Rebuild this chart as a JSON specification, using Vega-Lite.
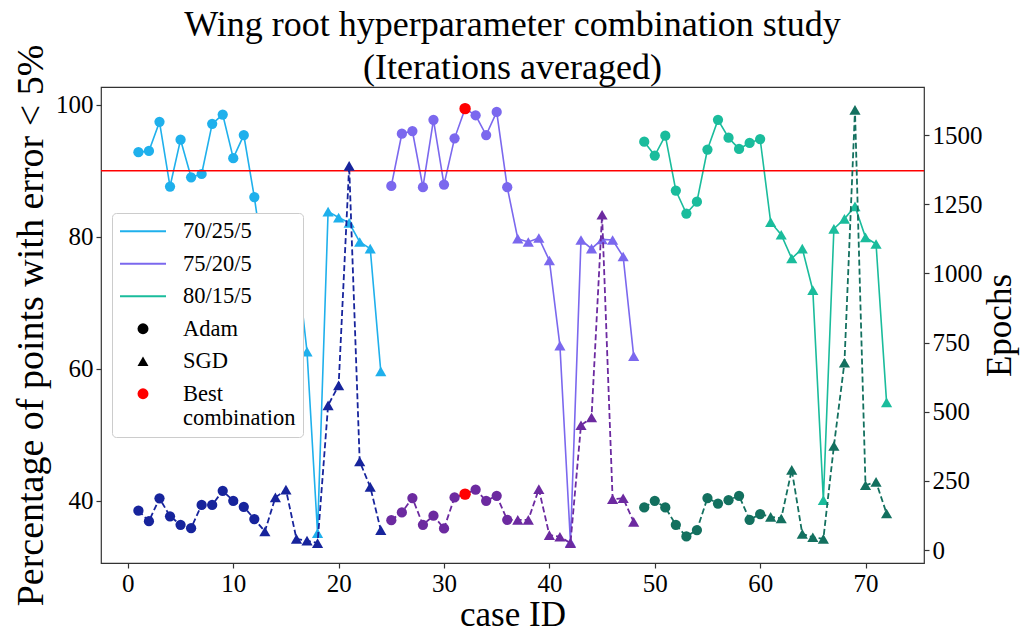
{
  "$schema": "https://vega.github.io/schema/vega-lite/v6.json",
  "width": 823,
  "height": 476,
  "autosize": {"type": "none"},
  "padding": {"left": 101, "top": 87, "right": 105, "bottom": 71},
  "background": "white",
  "config": {
    "view": {"stroke": "#333333", "strokeWidth": 1.2},
    "font": "Liberation Serif",
    "axis": {
      "grid": false, "domain": false, "tickColor": "#333333", "tickSize": 5, "tickWidth": 1.2,
      "labelFont": "Liberation Serif", "labelFontSize": 25, "labelColor": "#000000", "labelPadding": 3,
      "titleFont": "Liberation Serif", "titleFontSize": 35, "titleFontWeight": "normal", "titleColor": "#000000"
    }
  },
  "title": {
    "text": ["Wing root hyperparameter combination study", "(Iterations averaged)"],
    "font": "Liberation Serif", "fontSize": 36, "fontWeight": "normal", "color": "#000000",
    "anchor": "middle", "frame": "group", "offset": -43, "lineHeight": 43
  },
  "data": {"values": [
    {"case": 1, "config": "70/25/5", "opt": "Adam", "acc": 92.8, "ep": 142, "best": false},
    {"case": 2, "config": "70/25/5", "opt": "Adam", "acc": 93.0, "ep": 104, "best": false},
    {"case": 3, "config": "70/25/5", "opt": "Adam", "acc": 97.4, "ep": 187, "best": false},
    {"case": 4, "config": "70/25/5", "opt": "Adam", "acc": 87.6, "ep": 122, "best": false},
    {"case": 5, "config": "70/25/5", "opt": "Adam", "acc": 94.7, "ep": 91, "best": false},
    {"case": 6, "config": "70/25/5", "opt": "Adam", "acc": 89.0, "ep": 79, "best": false},
    {"case": 7, "config": "70/25/5", "opt": "Adam", "acc": 89.5, "ep": 163, "best": false},
    {"case": 8, "config": "70/25/5", "opt": "Adam", "acc": 97.1, "ep": 163, "best": false},
    {"case": 9, "config": "70/25/5", "opt": "Adam", "acc": 98.5, "ep": 214, "best": false},
    {"case": 10, "config": "70/25/5", "opt": "Adam", "acc": 91.9, "ep": 178, "best": false},
    {"case": 11, "config": "70/25/5", "opt": "Adam", "acc": 95.4, "ep": 156, "best": false},
    {"case": 12, "config": "70/25/5", "opt": "Adam", "acc": 86.0, "ep": 112, "best": false},
    {"case": 13, "config": "70/25/5", "opt": "SGD", "acc": 75.0, "ep": 67, "best": false},
    {"case": 14, "config": "70/25/5", "opt": "SGD", "acc": 72.0, "ep": 190, "best": false},
    {"case": 15, "config": "70/25/5", "opt": "SGD", "acc": 74.0, "ep": 218, "best": false},
    {"case": 16, "config": "70/25/5", "opt": "SGD", "acc": 77.0, "ep": 40, "best": false},
    {"case": 17, "config": "70/25/5", "opt": "SGD", "acc": 62.6, "ep": 34, "best": false},
    {"case": 18, "config": "70/25/5", "opt": "SGD", "acc": 35.1, "ep": 25, "best": false},
    {"case": 19, "config": "70/25/5", "opt": "SGD", "acc": 83.8, "ep": 523, "best": false},
    {"case": 20, "config": "70/25/5", "opt": "SGD", "acc": 82.9, "ep": 595, "best": false},
    {"case": 21, "config": "70/25/5", "opt": "SGD", "acc": 82.1, "ep": 1389, "best": false},
    {"case": 22, "config": "70/25/5", "opt": "SGD", "acc": 79.2, "ep": 320, "best": false},
    {"case": 23, "config": "70/25/5", "opt": "SGD", "acc": 78.2, "ep": 228, "best": false},
    {"case": 24, "config": "70/25/5", "opt": "SGD", "acc": 59.6, "ep": 72, "best": false},
    {"case": 25, "config": "75/20/5", "opt": "Adam", "acc": 87.7, "ep": 108, "best": false},
    {"case": 26, "config": "75/20/5", "opt": "Adam", "acc": 95.6, "ep": 136, "best": false},
    {"case": 27, "config": "75/20/5", "opt": "Adam", "acc": 96.0, "ep": 188, "best": false},
    {"case": 28, "config": "75/20/5", "opt": "Adam", "acc": 87.5, "ep": 91, "best": false},
    {"case": 29, "config": "75/20/5", "opt": "Adam", "acc": 97.7, "ep": 124, "best": false},
    {"case": 30, "config": "75/20/5", "opt": "Adam", "acc": 87.9, "ep": 78, "best": false},
    {"case": 31, "config": "75/20/5", "opt": "Adam", "acc": 94.9, "ep": 190, "best": false},
    {"case": 32, "config": "75/20/5", "opt": "Adam", "acc": 99.4, "ep": 202, "best": true},
    {"case": 33, "config": "75/20/5", "opt": "Adam", "acc": 98.4, "ep": 218, "best": false},
    {"case": 34, "config": "75/20/5", "opt": "Adam", "acc": 95.4, "ep": 178, "best": false},
    {"case": 35, "config": "75/20/5", "opt": "Adam", "acc": 98.9, "ep": 196, "best": false},
    {"case": 36, "config": "75/20/5", "opt": "Adam", "acc": 87.5, "ep": 109, "best": false},
    {"case": 37, "config": "75/20/5", "opt": "SGD", "acc": 79.7, "ep": 109, "best": false},
    {"case": 38, "config": "75/20/5", "opt": "SGD", "acc": 79.2, "ep": 109, "best": false},
    {"case": 39, "config": "75/20/5", "opt": "SGD", "acc": 79.8, "ep": 220, "best": false},
    {"case": 40, "config": "75/20/5", "opt": "SGD", "acc": 76.4, "ep": 54, "best": false},
    {"case": 41, "config": "75/20/5", "opt": "SGD", "acc": 63.5, "ep": 48, "best": false},
    {"case": 42, "config": "75/20/5", "opt": "SGD", "acc": 33.7, "ep": 25, "best": false},
    {"case": 43, "config": "75/20/5", "opt": "SGD", "acc": 79.5, "ep": 451, "best": false},
    {"case": 44, "config": "75/20/5", "opt": "SGD", "acc": 78.2, "ep": 479, "best": false},
    {"case": 45, "config": "75/20/5", "opt": "SGD", "acc": 79.6, "ep": 1212, "best": false},
    {"case": 46, "config": "75/20/5", "opt": "SGD", "acc": 79.5, "ep": 184, "best": false},
    {"case": 47, "config": "75/20/5", "opt": "SGD", "acc": 77.0, "ep": 187, "best": false},
    {"case": 48, "config": "75/20/5", "opt": "SGD", "acc": 61.9, "ep": 102, "best": false},
    {"case": 49, "config": "80/15/5", "opt": "Adam", "acc": 94.4, "ep": 154, "best": false},
    {"case": 50, "config": "80/15/5", "opt": "Adam", "acc": 92.3, "ep": 178, "best": false},
    {"case": 51, "config": "80/15/5", "opt": "Adam", "acc": 95.3, "ep": 154, "best": false},
    {"case": 52, "config": "80/15/5", "opt": "Adam", "acc": 87.0, "ep": 91, "best": false},
    {"case": 53, "config": "80/15/5", "opt": "Adam", "acc": 83.5, "ep": 49, "best": false},
    {"case": 54, "config": "80/15/5", "opt": "Adam", "acc": 85.3, "ep": 72, "best": false},
    {"case": 55, "config": "80/15/5", "opt": "Adam", "acc": 93.2, "ep": 188, "best": false},
    {"case": 56, "config": "80/15/5", "opt": "Adam", "acc": 97.7, "ep": 168, "best": false},
    {"case": 57, "config": "80/15/5", "opt": "Adam", "acc": 95.0, "ep": 180, "best": false},
    {"case": 58, "config": "80/15/5", "opt": "Adam", "acc": 93.3, "ep": 196, "best": false},
    {"case": 59, "config": "80/15/5", "opt": "Adam", "acc": 94.2, "ep": 109, "best": false},
    {"case": 60, "config": "80/15/5", "opt": "Adam", "acc": 94.8, "ep": 130, "best": false},
    {"case": 61, "config": "80/15/5", "opt": "SGD", "acc": 82.2, "ep": 120, "best": false},
    {"case": 62, "config": "80/15/5", "opt": "SGD", "acc": 80.3, "ep": 114, "best": false},
    {"case": 63, "config": "80/15/5", "opt": "SGD", "acc": 76.7, "ep": 290, "best": false},
    {"case": 64, "config": "80/15/5", "opt": "SGD", "acc": 78.2, "ep": 58, "best": false},
    {"case": 65, "config": "80/15/5", "opt": "SGD", "acc": 71.9, "ep": 46, "best": false},
    {"case": 66, "config": "80/15/5", "opt": "SGD", "acc": 40.1, "ep": 40, "best": false},
    {"case": 67, "config": "80/15/5", "opt": "SGD", "acc": 81.2, "ep": 376, "best": false},
    {"case": 68, "config": "80/15/5", "opt": "SGD", "acc": 82.7, "ep": 677, "best": false},
    {"case": 69, "config": "80/15/5", "opt": "SGD", "acc": 84.6, "ep": 1591, "best": false},
    {"case": 70, "config": "80/15/5", "opt": "SGD", "acc": 79.9, "ep": 234, "best": false},
    {"case": 71, "config": "80/15/5", "opt": "SGD", "acc": 78.9, "ep": 246, "best": false},
    {"case": 72, "config": "80/15/5", "opt": "SGD", "acc": 54.9, "ep": 132, "best": false}
  ]},
  "layer": [
    {
      "layer": [
        {
          "mark": {"type": "line", "strokeWidth": 1.6},
          "encoding": {
            "x": {"field": "case", "type": "quantitative", "title": "case ID",
                  "scale": {"domain": [-2.55, 75.55], "nice": false, "zero": false},
                  "axis": {"values": [0, 10, 20, 30, 40, 50, 60, 70], "titlePadding": 1}},
            "y": {"field": "acc", "type": "quantitative", "title": "Percentage of points with error < 5%",
                  "scale": {"domain": [30.57, 102.68], "nice": false, "zero": false},
                  "axis": {"orient": "left", "values": [40, 60, 80, 100], "titlePadding": 5, "titleFontSize": 38}},
            "stroke": {
              "field": "config", "type": "nominal",
              "scale": {
                "domain": ["70/25/5", "75/20/5", "80/15/5", "Adam", "SGD", "Best combination"],
                "range": ["#1fb0ec", "#7b68ee", "#1abc9c", "#000000", "#000000", "#ff0000"]
              },
              "legend": {
                "title": null, "orient": "none", "legendX": 11, "legendY": 126,
                "fillColor": "#ffffff", "strokeColor": "#cccccc", "cornerRadius": 4,
                "padding": 7, "rowPadding": 9.5, "symbolType": "stroke", "symbolSize": 2116,
                "symbolStrokeWidth": 2, "labelFont": "Liberation Serif", "labelFontSize": 22.5,
                "labelColor": "#000000", "labelLimit": 0, "labelOffset": 14,
                "labelExpr": "datum.label == 'Best combination' ? ['Best', 'combination'] : datum.label",
                "encode": {
                  "symbols": {
                    "update": {
                      "x": {"value": 24},
                      "shape": {"signal": "datum.value == 'Adam' || datum.value == 'Best combination' ? 'circle' : (datum.value == 'SGD' ? 'triangle-up' : 'M-1,0L1,0')"},
                      "size": {"signal": "datum.value == 'Adam' || datum.value == 'SGD' || datum.value == 'Best combination' ? 120 : 2116"},
                      "fill": {"signal": "datum.value == 'Adam' || datum.value == 'SGD' ? '#000000' : (datum.value == 'Best combination' ? '#ff0000' : 'transparent')"},
                      "strokeWidth": {"signal": "datum.value == 'Adam' || datum.value == 'SGD' || datum.value == 'Best combination' ? 0 : 2"}
                    }
                  },
                  "labels": {
                    "update": {
                      "x": {"value": 64}
                    }
                  }
                }
              }
            }
          }
        },
        {
          "mark": {"type": "point", "filled": true, "opacity": 1, "strokeWidth": 0},
          "encoding": {
            "x": {"field": "case", "type": "quantitative", "title": "case ID",
                  "scale": {"domain": [-2.55, 75.55], "nice": false, "zero": false}},
            "y": {"field": "acc", "type": "quantitative", "title": "Percentage of points with error < 5%",
                  "scale": {"domain": [30.57, 102.68], "nice": false, "zero": false}},
            "fill": {"field": "config", "type": "nominal",
                     "scale": {"domain": ["70/25/5", "75/20/5", "80/15/5"], "range": ["#1fb0ec", "#7b68ee", "#1abc9c"]},
                     "legend": null},
            "shape": {"field": "opt", "type": "nominal",
                      "scale": {"domain": ["Adam", "SGD"], "range": ["circle", "triangle-up"]},
                      "legend": null},
            "size": {"field": "opt", "type": "nominal",
                     "scale": {"domain": ["Adam", "SGD"], "range": [105, 125]},
                     "legend": null}
          }
        },
        {
          "data": {"values": [{}]},
          "mark": {"type": "rule", "color": "#ff0000", "strokeWidth": 1.6},
          "encoding": {"y": {"datum": 90}}
        },
        {
          "transform": [{"filter": "datum.best"}],
          "mark": {"type": "point", "shape": "circle", "filled": true, "size": 130, "opacity": 1, "color": "#ff0000", "strokeWidth": 0},
          "encoding": {
            "x": {"field": "case", "type": "quantitative", "title": "case ID",
                  "scale": {"domain": [-2.55, 75.55], "nice": false, "zero": false}},
            "y": {"field": "acc", "type": "quantitative", "title": "Percentage of points with error < 5%",
                  "scale": {"domain": [30.57, 102.68], "nice": false, "zero": false}}
          }
        }
      ]
    },
    {
      "layer": [
        {
          "mark": {"type": "line", "strokeWidth": 1.8, "strokeDash": [6, 3]},
          "encoding": {
            "x": {"field": "case", "type": "quantitative", "title": "case ID",
                  "scale": {"domain": [-2.55, 75.55], "nice": false, "zero": false}},
            "y": {"field": "ep", "type": "quantitative", "title": "Epochs",
                  "scale": {"domain": [-47, 1674], "nice": false, "zero": false},
                  "axis": {"orient": "right", "values": [0, 250, 500, 750, 1000, 1250, 1500], "format": "d",
                           "titleAngle": -90, "titleBaseline": "top", "titlePadding": 0}},
            "color": {"field": "config", "type": "nominal",
                      "scale": {"domain": ["70/25/5", "75/20/5", "80/15/5"], "range": ["#17249c", "#6c2aa0", "#13705f"]},
                      "legend": null}
          }
        },
        {
          "mark": {"type": "point", "filled": true, "opacity": 1, "strokeWidth": 0},
          "encoding": {
            "x": {"field": "case", "type": "quantitative", "title": "case ID",
                  "scale": {"domain": [-2.55, 75.55], "nice": false, "zero": false}},
            "y": {"field": "ep", "type": "quantitative", "title": "Epochs",
                  "scale": {"domain": [-47, 1674], "nice": false, "zero": false}},
            "color": {"field": "config", "type": "nominal",
                      "scale": {"domain": ["70/25/5", "75/20/5", "80/15/5"], "range": ["#17249c", "#6c2aa0", "#13705f"]},
                      "legend": null},
            "shape": {"field": "opt", "type": "nominal",
                      "scale": {"domain": ["Adam", "SGD"], "range": ["circle", "triangle-up"]},
                      "legend": null},
            "size": {"field": "opt", "type": "nominal",
                     "scale": {"domain": ["Adam", "SGD"], "range": [105, 125]},
                     "legend": null}
          }
        },
        {
          "transform": [{"filter": "datum.best"}],
          "mark": {"type": "point", "shape": "circle", "filled": true, "size": 130, "opacity": 1, "color": "#ff0000", "strokeWidth": 0},
          "encoding": {
            "x": {"field": "case", "type": "quantitative", "title": "case ID",
                  "scale": {"domain": [-2.55, 75.55], "nice": false, "zero": false}},
            "y": {"field": "ep", "type": "quantitative", "title": "Epochs",
                  "scale": {"domain": [-47, 1674], "nice": false, "zero": false}}
          }
        }
      ]
    }
  ],
  "resolve": {"scale": {"y": "independent"}}
}
